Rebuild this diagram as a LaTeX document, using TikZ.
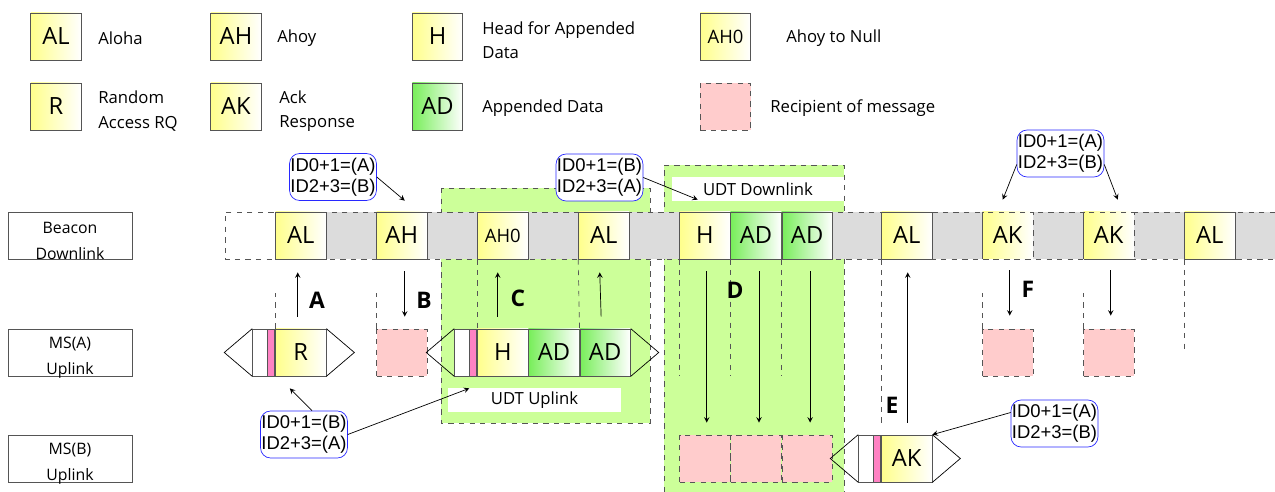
\documentclass[tikz,border=0pt]{standalone}
\usepackage{fontspec}
\setmainfont{Open Sans}
\newfontfamily\calloutfont{Liberation Sans}
\usepackage{xcolor}
\usetikzlibrary{calc, positioning}

\definecolor{slotyellow}{RGB}{255,255,140}
\definecolor{slotgreen}{RGB}{120,238,90}
\definecolor{areagreen}{RGB}{204,255,153}
\definecolor{recippink}{RGB}{255,204,204}
\definecolor{barpink}{RGB}{255,130,195}
\definecolor{stripgray}{RGB}{220,220,220}
\definecolor{edgegray}{RGB}{85,85,85}
\definecolor{callblue}{RGB}{40,40,255}

\tikzset{
  slotbox/.style={draw=edgegray, minimum width=1.01cm, minimum height=0.94cm, inner sep=0pt, font=\fontsize{13.5}{13.5}\selectfont},
  yslot/.style={slotbox, left color=slotyellow, right color=white},
  gslot/.style={slotbox, left color=slotgreen, right color=white},
  recipbox/.style={draw=edgegray, dashed, fill=recippink, minimum width=1.01cm, minimum height=0.94cm, inner sep=0pt},
  leadbar/.style={draw=edgegray, fill=white, minimum width=0.29cm, minimum height=0.94cm, inner sep=0pt},
  pinkbar/.style={draw=edgegray, fill=barpink, minimum width=0.14cm, minimum height=0.94cm, inner sep=0pt},
  rowbox/.style={draw=edgegray, minimum width=2.48cm, minimum height=0.94cm},
  rowtext/.style={align=center, font=\fontsize{9}{14.8}\selectfont},
  legendtext/.style={anchor=west, align=left, inner sep=0pt, font=\fontsize{9.5}{13.8}\selectfont},
  callout/.style={draw=callblue, rounded corners=0.2cm, fill=white, align=center, minimum width=1.72cm, minimum height=0.94cm, inner sep=0.5pt, font=\calloutfont\fontsize{10.5}{12}\selectfont},
  greenarea/.style={fill=areagreen, draw=edgegray, dashed},
  tagbox/.style={fill=white, inner sep=0pt, minimum height=0.48cm, font=\fontsize{9.5}{9.5}\selectfont},
  guide/.style={dashed, thin, edgegray},
  flow/.style={->, thin},
  steplabel/.style={font=\bfseries\fontsize{13}{13}\selectfont},
}

\begin{document}
\begin{tikzpicture}[>=stealth, x=0.02cm, y=-0.02cm]

    \useasboundingbox (0,0) rectangle (1275,492);

    % =================================================================
    % 1. LEGEND
    % =================================================================
    \node[yslot] (LegAL) at (56,36.5) {AL};
    \node[yslot] (LegR) at (56,106.5) {R};
    \node[yslot] (LegAH) at (236,36.5) {AH};
    \node[yslot] (LegAK) at (236,106.5) {AK};
    \node[yslot] (LegH) at (437.5,36.5) {H};
    \node[gslot] (LegAD) at (437.5,106.5) {AD};
    \node[yslot, font=\fontsize{10.5}{10.5}\selectfont] (LegAHZero) at (725.5,36.5) {AH0};
    \node[recipbox] (LegRecip) at (725.5,106.5) {};

    \node[legendtext] (TxtAloha) at (98,38) {Aloha};
    \node[legendtext] (TxtRandom) at (98,111) {Random\\Access RQ};
    \node[legendtext] (TxtAhoy) at (277,38) {Ahoy};
    \node[legendtext] (TxtAck) at (279,111) {Ack\\Response};
    \node[legendtext] (TxtHead) at (482,40.5) {Head for Appended\\Data};
    \node[legendtext] (TxtData) at (482,108) {Appended Data};
    \node[legendtext] (TxtNull) at (786,38) {Ahoy to Null};
    \node[legendtext] (TxtRecip) at (770,108) {Recipient of message};

    % =================================================================
    % 2. ROW NAMES
    % =================================================================
    \node[rowbox] (BeaconRow) at (70,235.5) {};
    \node[rowtext] (BeaconText) at ($(BeaconRow.center)+(0,5)$) {Beacon\\Downlink};
    \node[rowbox] (MSARow) at (70,352.5) {};
    \node[rowtext] (MSAText) at ($(MSARow.center)+(0,5)$) {MS(A)\\Uplink};
    \node[rowbox] (MSBRow) at (70,458.5) {};
    \node[rowtext] (MSBText) at ($(MSBRow.center)+(0,5)$) {MS(B)\\Uplink};

    % =================================================================
    % 3. UDT AREAS
    % =================================================================
    \draw[greenarea] (441,188) rectangle (650,423);
    \fill[areagreen] (664,165) rectangle (844,492);
    \draw[guide] (664,492) -- (664,165) -- (844,165) -- (844,492);

    \node[tagbox, minimum width=3.44cm] (TagDown) at (758,189) {UDT Downlink};
    \node[tagbox, minimum width=3.46cm] (TagUp) at (534.5,400) {UDT Uplink};

    % =================================================================
    % 4. BEACON DOWNLINK STRIP
    % =================================================================
    \coordinate (StripStart) at (225,212);
    \coordinate (StripEnd) at (1275,259);
    \fill[stripgray] (326,212) rectangle (StripEnd);
    \draw[guide] (1275,212) -- (StripStart) -- (225,259) -- (StripEnd);

    \node[yslot] (SlotAL1) at (300.75,235.5) {AL};
    \node[yslot] (SlotAH) at (401.75,235.5) {AH};
    \node[yslot, font=\fontsize{10.5}{10.5}\selectfont] (SlotAHZero) at (502.75,235.5) {AH0};
    \node[yslot] (SlotAL2) at (603.75,235.5) {AL};
    \node[yslot] (SlotH) at (704.75,235.5) {H};
    \node[gslot, right=0pt of SlotH] (SlotAD1) {AD};
    \node[gslot, right=0pt of SlotAD1] (SlotAD2) {AD};
    \node[yslot] (SlotAL3) at (906.75,235.5) {AL};
    \node[yslot, dashed] (SlotAK1) at (1007.75,235.5) {AK};
    \node[yslot, dashed] (SlotAK2) at (1108.75,235.5) {AK};
    \node[yslot] (SlotAL4) at (1209.75,235.5) {AL};
    \draw[edgegray] (SlotAK1.north west) -- (SlotAK1.south west);
    \draw[edgegray] (SlotAK2.north west) -- (SlotAK2.south west);

    % =================================================================
    % 5. MS(A) UPLINK
    % =================================================================
    \node[yslot] (PackR) at (300.75,352.5) {R};
    \node[pinkbar, left=0pt of PackR] (PackRBar) {};
    \node[leadbar, left=0pt of PackRBar] (PackRLead) {};
    \draw (PackRLead.north west) -- ($(PackRLead.west)+(-28,0)$) -- (PackRLead.south west);
    \draw (PackR.north east) -- ($(PackR.east)+(28,0)$) -- (PackR.south east);

    \node[recipbox] (RecipAH) at (401.75,352.5) {};

    \node[yslot] (PackH) at (502.75,352.5) {H};
    \node[gslot, right=0pt of PackH] (PackAD1) {AD};
    \node[gslot, right=0pt of PackAD1] (PackAD2) {AD};
    \node[pinkbar, left=0pt of PackH] (PackHBar) {};
    \node[leadbar, left=0pt of PackHBar] (PackHLead) {};
    \draw (PackHLead.north west) -- ($(PackHLead.west)+(-28,0)$) -- (PackHLead.south west);
    \draw (PackAD2.north east) -- ($(PackAD2.east)+(28,0)$) -- (PackAD2.south east);

    \node[recipbox] (RecipAK1) at (1007.75,352.5) {};
    \node[recipbox] (RecipAK2) at (1108.75,352.5) {};

    % =================================================================
    % 6. MS(B) UPLINK
    % =================================================================
    \node[recipbox] (RecipH) at (704.75,458.5) {};
    \node[recipbox, right=0pt of RecipH] (RecipAD1) {};
    \node[recipbox, right=0pt of RecipAD1] (RecipAD2) {};

    \node[yslot] (PackAK) at (906.75,458.5) {AK};
    \node[pinkbar, left=0pt of PackAK] (PackAKBar) {};
    \node[leadbar, left=0pt of PackAKBar] (PackAKLead) {};
    \draw (PackAKLead.north west) -- ($(PackAKLead.west)+(-28,0)$) -- (PackAKLead.south west);
    \draw (PackAK.north east) -- ($(PackAK.east)+(28,0)$) -- (PackAK.south east);

    % =================================================================
    % 7. DASHED GUIDES
    % =================================================================
    \draw[guide] (PackR.north west) -- ++(0,-36);
    \draw[guide] (RecipAH.north west) -- ++(0,-36);
    \draw[guide] (SlotAHZero.south west) -- (PackH.north west);
    \draw[guide] (SlotAL2.south west) -- (PackAD2.north west);
    \draw[guide] (SlotH.south west) -- ++(0,117);
    \draw[guide] (SlotAD1.south west) -- ++(0,117);
    \draw[guide] (SlotAD2.south west) -- ++(0,117);
    \draw[guide] (SlotAL3.south west) -- ++(0,164);
    \draw[guide] (RecipAK1.north west) -- ++(0,-36);
    \draw[guide] (RecipAK2.north west) -- ++(0,-36);
    \draw[guide] (SlotAL4.south west) -- ++(0,93);

    % =================================================================
    % 8. MESSAGE ARROWS AND STEPS
    % =================================================================
    \draw[flow] ($(PackR.north)+(-3,-12)$) -- ($(SlotAL1.south)+(-3,13)$);
    \draw[flow] ($(SlotAH.south)+(3,12)$) -- ($(RecipAH.north)+(3,-12)$);
    \draw[flow] ($(PackH.north)+(-5,-12)$) -- ($(SlotAHZero.south)+(-5,13)$);
    \draw[flow] ($(PackAD2.north)+(-4,-12)$) -- ($(SlotAL2.south)+(-4,13)$);
    \draw[flow] ($(SlotH.south)+(2,12)$) -- ($(RecipH.north)+(2,-12)$);
    \draw[flow] ($(SlotAD1.south)+(3,12)$) -- ($(RecipAD1.north)+(3,-12)$);
    \draw[flow] ($(SlotAD2.south)+(3,12)$) -- ($(RecipAD2.north)+(3,-12)$);
    \draw[flow] ($(PackAK.north)+(1,-12)$) -- ($(SlotAL3.south)+(1,13)$);
    \draw[flow] ($(SlotAK1.south)+(2,11)$) -- ($(RecipAK1.north)+(2,-13)$);
    \draw[flow] ($(SlotAK2.south)+(2,11)$) -- ($(RecipAK2.north)+(2,-13)$);

    \node[steplabel] (StepA) at (317,300) {A};
    \node[steplabel] (StepB) at (424,300) {B};
    \node[steplabel] (StepC) at (518,298) {C};
    \node[steplabel] (StepD) at (735,290) {D};
    \node[steplabel] (StepE) at (892,405) {E};
    \node[steplabel] (StepF) at (1028,289) {F};

    % =================================================================
    % 9. ID CALLOUTS
    % =================================================================
    \node[callout] (NoteAH) at (333,177) {ID0+1=(A)\\ID2+3=(B)};
    \draw[flow] (NoteAH.east) -- ($(SlotAH.north)+(3,-11)$);

    \node[callout] (NoteUDT) at (599.5,177.5) {ID0+1=(B)\\ID2+3=(A)};
    \draw[flow] (NoteUDT.east) -- ($(SlotH.north)+(-7,-12)$);

    \node[callout] (NoteAK) at (1060.5,153.5) {ID0+1=(A)\\ID2+3=(B)};
    \draw[flow] ($(NoteAK.west)+(0,11)$) -- ($(SlotAK1.north)+(-5,-12)$);
    \draw[flow] ($(NoteAK.east)+(0,11)$) -- ($(SlotAK2.north)+(9,-12)$);

    \node[callout] (NoteR) at (304,434.5) {ID0+1=(B)\\ID2+3=(A)};
    \draw[flow] ($(NoteR.north)+(8,0)$) -- ($(PackR.south)+(-11,12)$);
    \draw[flow] (NoteR.east) -- ($(PackHBar.south)+(-4,12)$);

    \node[callout] (NoteB) at (1054.5,423.5) {ID0+1=(A)\\ID2+3=(B)};
    \draw[flow] ($(NoteB.west)+(0,-11)$) -- (PackAK.north east);

\end{tikzpicture}
\end{document}
